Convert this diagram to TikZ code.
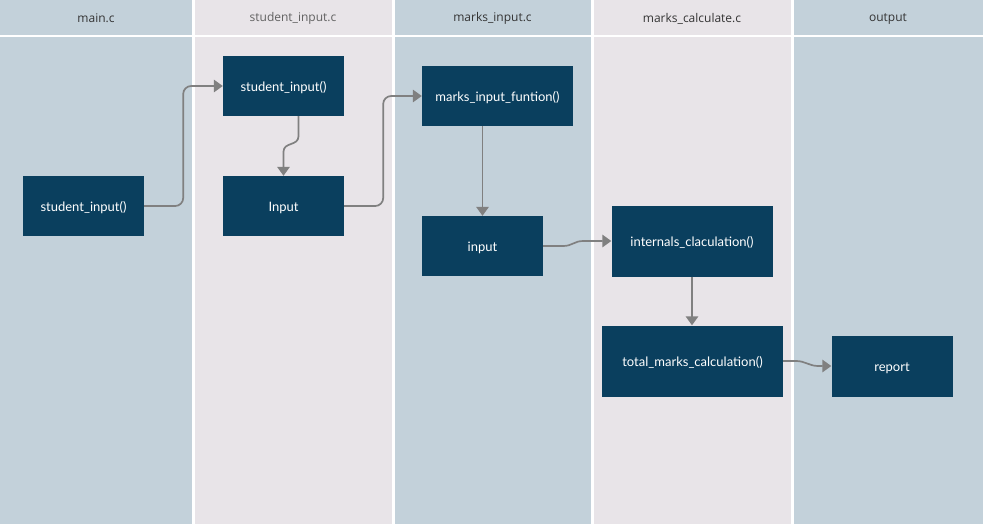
\documentclass[tikz,border=0pt]{standalone}
\usepackage{fontspec}
\setmainfont{Lato}
\newfontfamily\headfont{Open Sans}
\usetikzlibrary{arrows.meta,calc}
\definecolor{laneblue}{HTML}{C3D1DA}
\definecolor{lanepink}{HTML}{E8E4E8}
\definecolor{boxfill}{HTML}{0A3F5E}
\definecolor{wire}{HTML}{808080}
\definecolor{headtext}{HTML}{333333}
\tikzset{
  fnbox/.style={fill=boxfill, draw=none, text=white, inner sep=0pt,
    text height=11pt, text depth=0pt,
    font=\fontsize{13}{15}\selectfont},
  lanehead/.style={font=\headfont\fontsize{12}{14}\selectfont, text=headtext},
  conn/.style={draw=wire, line width=1.7pt,
    -{Triangle[length=9pt,width=12.5pt]}},
}
\begin{document}
\begin{tikzpicture}[x=1pt,y=-1pt]
  \useasboundingbox (0,0) rectangle (983,527);
  \fill[white] (0,0) rectangle (983,527);
  % swim lanes
  \fill[laneblue] (0,0) rectangle (192,524);
  \fill[lanepink] (194.5,0) rectangle (392,524);
  \fill[laneblue] (394.5,0) rectangle (591,524);
  \fill[lanepink] (593.5,0) rectangle (791,524);
  \fill[laneblue] (793.5,0) rectangle (983,524);
  \fill[white] (0,35.5) rectangle (983,37.5);
  % lane titles
  \node[lanehead] (h1) at (96,18.5) {main.c};
  \node[lanehead, text=black!62] (h2) at (293,18.5) {student\_input.c};
  \node[lanehead] (h3) at (492.5,18.5) {marks\_input.c};
  \node[lanehead] (h4) at (692,18.5) {marks\_calculate.c};
  \node[lanehead] (h5) at (888,18.5) {output};
  % function boxes
  \node[fnbox, minimum width=121pt, minimum height=60pt] (main) at (83.5,206) {student\_input()};
  \node[fnbox, minimum width=121pt, minimum height=60pt] (sin) at (283.5,86) {student\_input()};
  \node[fnbox, minimum width=121pt, minimum height=60pt] (inp) at (283.5,206) {Input};
  \node[fnbox, minimum width=151pt, minimum height=60pt] (mif) at (497.5,96) {marks\_input\_funtion()};
  \node[fnbox, minimum width=121pt, minimum height=60pt] (minp) at (482.5,246) {input};
  \node[fnbox, minimum width=161pt, minimum height=71pt] (ic) at (692,241) {internals\_claculation()};
  \node[fnbox, minimum width=181pt, minimum height=71pt] (tm) at (692.5,361) {total\_marks\_calculation()};
  \node[fnbox, minimum width=121pt, minimum height=61pt] (rep) at (892,366) {report};
  % connectors
  \draw[conn, rounded corners=8pt] (main.east) -- ++(39,0) |- (sin.west);
  \draw[conn] ([xshift=15pt]sin.south) -- ++(0,20)
     .. controls +(0,10) and +(0,-10) .. ($(inp.north)+(0,-24)$) -- (inp.north);
  \draw[conn, rounded corners=8pt] (inp.east) -- ++(39,0) |- (mif.west);
  \draw[conn] (mif.south -| minp.north) -- (minp.north);
  \draw[conn] (minp.east) -- ++(20,0)
     .. controls +(9,0) and +(-9,0) .. ++(20,-5) -- (ic.west);
  \draw[conn] (ic.south) -- (ic.south |- tm.north);
  \draw[conn] (tm.east) -- ++(13,0)
     .. controls +(9,0) and +(-9,0) .. ++(22,5) -- (rep.west);
\end{tikzpicture}
\end{document}
